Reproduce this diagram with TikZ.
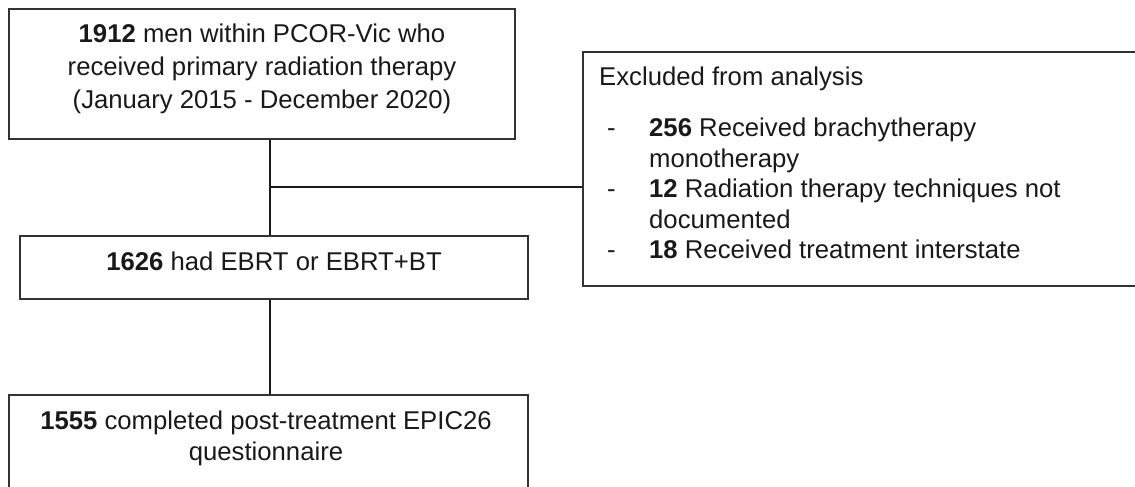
\documentclass[tikz,border=0pt]{standalone}
\usepackage{fontspec}
\setmainfont{Liberation Sans}
\usepackage{tikz}

\begin{document}
\begin{tikzpicture}[x=1pt, y=-1pt,
  box/.style={draw=black!80, line width=1.3pt, inner sep=0pt},
  txt/.style={inner sep=0pt, text=black!90, font=\fontsize{25.7}{33}\selectfont},
  link/.style={draw=black!90, line width=2pt}]
%\draw[help lines] (0,0) grid (1135,487);
\useasboundingbox (0,0) rectangle (1135,487);
\clip (0,0) rectangle (1135,487);
\node (cohort) [box, minimum width=506pt, minimum height=130pt] at (262,74) {};
\node (ebrt) [box, minimum width=508pt, minimum height=63pt] at (274,267.5) {};
\node (epic) [box, minimum width=519pt, minimum height=115pt] at (268.5,452.5) {};
\node (excl) [box, minimum width=577pt, minimum height=234pt] at (871.5,169) {};
\node (cohort_t) [txt, align=center] at (262,68.4) {\textbf{1912} men within PCOR-Vic who\\received primary radiation therapy\\(January 2015 - December 2020)};
\node (ebrt_t) [txt, anchor=base] at (274,270.7) {\textbf{1626} had EBRT or EBRT+BT};
\node (epic_t) [txt, align=center, font=\fontsize{25.7}{31}\selectfont] at (266,438) {\textbf{1555} completed post-treatment EPIC26\\questionnaire};
\node (excl_t) [txt, anchor=base west] at (599,85) {Excluded from analysis};
\node (excl_l) [txt, anchor=base west, font=\fontsize{25.7}{30.5}\selectfont] at (607,136.7) {%
\begin{tabular}[t]{@{}p{42pt}@{}l@{}}
- & \textbf{256} Received brachytherapy\\
  & monotherapy\\
- & \textbf{12} Radiation therapy techniques not\\
  & documented\\
- & \textbf{18} Received treatment interstate
\end{tabular}};
\coordinate (split) at (270,187);

\path
(cohort.south -| split) edge [link] (ebrt.north -| split)
(split) edge [link] (excl.west |- split)
(ebrt.south -| split) edge [link] (epic.north -| split);
\end{tikzpicture}
\end{document}
